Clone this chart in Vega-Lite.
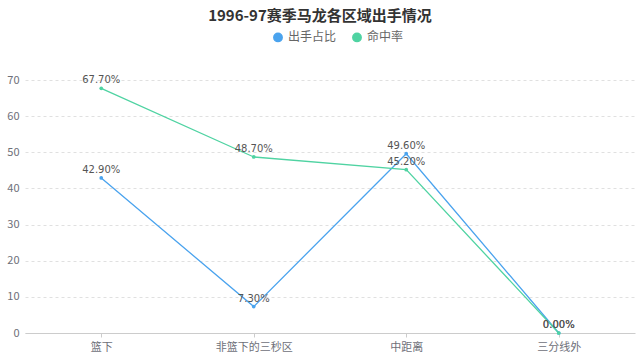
{
  "$schema": "https://vega.github.io/schema/vega-lite/v6.json",
  "width": 610,
  "height": 253,
  "autosize": {"type": "none"},
  "padding": {"left": 25, "top": 80, "right": 5, "bottom": 26},
  "background": "white",
  "title": {
    "text": "1996-97赛季马龙各区域出手情况",
    "fontSize": 15,
    "fontWeight": "bold",
    "color": "#333333",
    "font": "Noto Sans CJK SC",
    "anchor": "middle",
    "dx": -10,
    "offset": 7
  },
  "config": {
    "view": {"stroke": null},
    "font": "Noto Sans CJK SC"
  },
  "data": {
    "values": [
      {"area": "篮下", "series": "出手占比", "value": 42.9},
      {"area": "非篮下的三秒区", "series": "出手占比", "value": 7.3},
      {"area": "中距离", "series": "出手占比", "value": 49.6},
      {"area": "三分线外", "series": "出手占比", "value": 0.0},
      {"area": "篮下", "series": "命中率", "value": 67.7},
      {"area": "非篮下的三秒区", "series": "命中率", "value": 48.7},
      {"area": "中距离", "series": "命中率", "value": 45.2},
      {"area": "三分线外", "series": "命中率", "value": 0.0}
    ]
  },
  "transform": [
    {"calculate": "format(datum.value, '.2f') + '%'", "as": "label"}
  ],
  "encoding": {
    "x": {
      "field": "area",
      "type": "nominal",
      "sort": null,
      "scale": {"type": "point", "padding": 0.5},
      "axis": {
        "title": null,
        "labelAngle": 0,
        "labelColor": "#6e7079",
        "labelFontSize": 11,
        "domainColor": "#cccccc",
        "tickColor": "#cccccc",
        "tickSize": 4,
        "labelPadding": 4,
        "grid": false
      }
    },
    "y": {
      "field": "value",
      "type": "quantitative",
      "scale": {"domain": [0, 70], "nice": false},
      "axis": {
        "title": null,
        "values": [0, 10, 20, 30, 40, 50, 60, 70],
        "domain": false,
        "ticks": false,
        "labelColor": "#6e7079",
        "labelFontSize": 11,
        "labelPadding": 6,
        "gridColor": "#e0e0e0",
        "gridDash": [3, 3]
      }
    },
    "color": {
      "field": "series",
      "type": "nominal",
      "scale": {"domain": ["出手占比", "命中率"], "range": ["#4aa3ee", "#4fd3a2"]},
      "legend": {
        "title": null,
        "orient": "none",
        "direction": "horizontal",
        "legendX": 247,
        "legendY": -49,
        "symbolType": "circle",
        "symbolSize": 70,
        "labelFontSize": 12,
        "labelColor": "#666666",
        "columnPadding": 12
      }
    }
  },
  "layer": [
    {"mark": {"type": "line", "strokeWidth": 1.3}},
    {"mark": {"type": "point", "filled": true, "size": 14, "opacity": 1}},
    {
      "mark": {"type": "text", "dy": -8, "fontSize": 10, "color": "#555555", "font": "DejaVu Sans"},
      "encoding": {
        "text": {"field": "label", "type": "nominal"},
        "color": {"value": "#555555"}
      }
    }
  ]
}
